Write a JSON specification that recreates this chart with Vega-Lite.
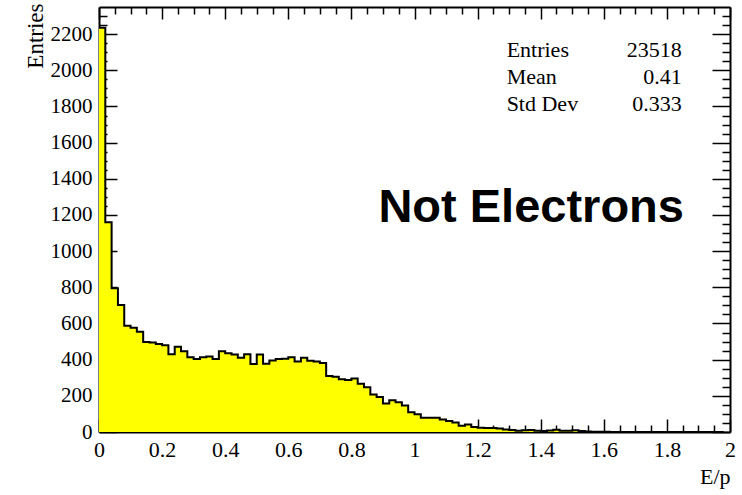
{
  "$schema": "https://vega.github.io/schema/vega-lite/v6.json",
  "width": 631,
  "height": 425,
  "autosize": {"type": "none"},
  "padding": {"left": 99, "top": 7, "right": 12, "bottom": 63},
  "background": "white",
  "config": {
    "view": {"stroke": null},
    "axis": {
      "labelFont": "Liberation Serif",
      "titleFont": "Liberation Serif",
      "labelColor": "black",
      "titleColor": "black",
      "tickColor": "black",
      "domainColor": "black",
      "domainWidth": 2,
      "tickWidth": 1.5,
      "grid": false,
      "zindex": 2
    }
  },
  "datasets": {
    "hist": [
      {"lo": 0.00, "n": 2235}, {"lo": 0.02, "n": 1160}, {"lo": 0.04, "n": 795}, {"lo": 0.06, "n": 702}, {"lo": 0.08, "n": 588},
      {"lo": 0.10, "n": 576}, {"lo": 0.12, "n": 555}, {"lo": 0.14, "n": 498}, {"lo": 0.16, "n": 495}, {"lo": 0.18, "n": 487},
      {"lo": 0.20, "n": 480}, {"lo": 0.22, "n": 430}, {"lo": 0.24, "n": 472}, {"lo": 0.26, "n": 446}, {"lo": 0.28, "n": 413},
      {"lo": 0.30, "n": 403}, {"lo": 0.32, "n": 413}, {"lo": 0.34, "n": 418}, {"lo": 0.36, "n": 403}, {"lo": 0.38, "n": 446},
      {"lo": 0.40, "n": 436}, {"lo": 0.42, "n": 428}, {"lo": 0.44, "n": 411}, {"lo": 0.46, "n": 430}, {"lo": 0.48, "n": 376},
      {"lo": 0.50, "n": 428}, {"lo": 0.52, "n": 378}, {"lo": 0.54, "n": 395}, {"lo": 0.56, "n": 404}, {"lo": 0.58, "n": 405},
      {"lo": 0.60, "n": 414}, {"lo": 0.62, "n": 390}, {"lo": 0.64, "n": 411}, {"lo": 0.66, "n": 394}, {"lo": 0.68, "n": 390},
      {"lo": 0.70, "n": 381}, {"lo": 0.72, "n": 310}, {"lo": 0.74, "n": 305}, {"lo": 0.76, "n": 292}, {"lo": 0.78, "n": 288},
      {"lo": 0.80, "n": 296}, {"lo": 0.82, "n": 267}, {"lo": 0.84, "n": 247}, {"lo": 0.86, "n": 208}, {"lo": 0.88, "n": 193},
      {"lo": 0.90, "n": 158}, {"lo": 0.92, "n": 175}, {"lo": 0.94, "n": 164}, {"lo": 0.96, "n": 147}, {"lo": 0.98, "n": 109},
      {"lo": 1.00, "n": 98}, {"lo": 1.02, "n": 79}, {"lo": 1.04, "n": 79}, {"lo": 1.06, "n": 79}, {"lo": 1.08, "n": 69},
      {"lo": 1.10, "n": 61}, {"lo": 1.12, "n": 52}, {"lo": 1.14, "n": 34}, {"lo": 1.16, "n": 42}, {"lo": 1.18, "n": 28},
      {"lo": 1.20, "n": 24}, {"lo": 1.22, "n": 22}, {"lo": 1.24, "n": 22}, {"lo": 1.26, "n": 20}, {"lo": 1.28, "n": 14},
      {"lo": 1.30, "n": 11}, {"lo": 1.32, "n": 7}, {"lo": 1.34, "n": 10}, {"lo": 1.36, "n": 11}, {"lo": 1.38, "n": 7},
      {"lo": 1.40, "n": 6}, {"lo": 1.42, "n": 8}, {"lo": 1.44, "n": 12}, {"lo": 1.46, "n": 7}, {"lo": 1.48, "n": 7},
      {"lo": 1.50, "n": 10}, {"lo": 1.52, "n": 5}, {"lo": 1.54, "n": 3}, {"lo": 1.56, "n": 2}, {"lo": 1.58, "n": 1},
      {"lo": 1.60, "n": 2}, {"lo": 1.62, "n": 0}, {"lo": 1.64, "n": 0}, {"lo": 1.66, "n": 0}, {"lo": 1.68, "n": 0},
      {"lo": 1.70, "n": 0}, {"lo": 1.72, "n": 0}, {"lo": 1.74, "n": 0}, {"lo": 1.76, "n": 0}, {"lo": 1.78, "n": 0},
      {"lo": 1.80, "n": 0}, {"lo": 1.82, "n": 0}, {"lo": 1.84, "n": 0}, {"lo": 1.86, "n": 0}, {"lo": 1.88, "n": 0},
      {"lo": 1.90, "n": 0}, {"lo": 1.92, "n": 0}, {"lo": 1.94, "n": 0}, {"lo": 1.96, "n": 0}, {"lo": 1.98, "n": 0}
    ],
    "note": [
      {"sample": "Not Electrons"}
    ]
  },
  "resolve": {"axis": {"x": "independent", "y": "independent"}},
  "layer": [
    {
      "data": {"name": "hist"},
      "mark": {"type": "area", "interpolate": "step-after", "fill": "#ffff00"},
      "encoding": {
        "x": {
          "field": "lo", "type": "quantitative",
          "scale": {"domain": [0, 2], "nice": false, "zero": false},
          "axis": {
            "orient": "bottom",
            "title": "E/p",
            "titleFontSize": 22,
            "titleFontWeight": "normal",
            "titleAnchor": "end",
            "titleAlign": "right",
            "titleBaseline": "alphabetic",
            "titleX": 631,
            "titleY": 51,
            "values": [0, 0.05, 0.1, 0.15, 0.2, 0.25, 0.3, 0.35, 0.4, 0.45, 0.5, 0.55, 0.6, 0.65, 0.7, 0.75, 0.8, 0.85, 0.9, 0.95, 1, 1.05, 1.1, 1.15, 1.2, 1.25, 1.3, 1.35, 1.4, 1.45, 1.5, 1.55, 1.6, 1.65, 1.7, 1.75, 1.8, 1.85, 1.9, 1.95, 2],
            "labelExpr": "abs(datum.value*5-round(datum.value*5))<0.001 ? format(datum.value, '~g') : ''",
            "labelFontSize": 22,
            "labelPadding": 20,
            "labelFlush": false,
            "labelOverlap": false,
            "tickSize": {"condition": {"test": "abs(datum.value*5-round(datum.value*5))<0.001", "value": -13}, "value": -7}
          }
        },
        "y": {
          "field": "n", "type": "quantitative",
          "scale": {"domain": [0, 2350], "nice": false},
          "axis": {
            "orient": "left",
            "title": "Entries",
            "titleFontSize": 23,
            "titleFontWeight": "normal",
            "titleAngle": -90,
            "titleAnchor": "end",
            "titleAlign": "right",
            "titleBaseline": "alphabetic",
            "titleX": -57,
            "titleY": -4,
            "values": [0, 50, 100, 150, 200, 250, 300, 350, 400, 450, 500, 550, 600, 650, 700, 750, 800, 850, 900, 950, 1000, 1050, 1100, 1150, 1200, 1250, 1300, 1350, 1400, 1450, 1500, 1550, 1600, 1650, 1700, 1750, 1800, 1850, 1900, 1950, 2000, 2050, 2100, 2150, 2200, 2250, 2300],
            "labelExpr": "datum.value % 200 == 0 ? format(datum.value, 'd') : ''",
            "labelFontSize": 21,
            "labelPadding": 25,
            "labelFlush": false,
            "labelOverlap": false,
            "tickSize": {"condition": {"test": "datum.value % 200 == 0", "value": -18}, "value": -8}
          }
        }
      }
    },
    {
      "data": {"name": "hist"},
      "mark": {"type": "line", "interpolate": "step-after", "stroke": "black", "strokeWidth": 2},
      "encoding": {
        "x": {
          "field": "lo", "type": "quantitative",
          "scale": {"domain": [0, 2], "nice": false, "zero": false},
          "axis": {
            "orient": "top",
            "title": null,
            "labels": false,
            "values": [0, 0.05, 0.1, 0.15, 0.2, 0.25, 0.3, 0.35, 0.4, 0.45, 0.5, 0.55, 0.6, 0.65, 0.7, 0.75, 0.8, 0.85, 0.9, 0.95, 1, 1.05, 1.1, 1.15, 1.2, 1.25, 1.3, 1.35, 1.4, 1.45, 1.5, 1.55, 1.6, 1.65, 1.7, 1.75, 1.8, 1.85, 1.9, 1.95, 2],
            "tickSize": {"condition": {"test": "abs(datum.value*5-round(datum.value*5))<0.001", "value": -12}, "value": -7}
          }
        },
        "y": {
          "field": "n", "type": "quantitative",
          "scale": {"domain": [0, 2350], "nice": false},
          "axis": {
            "orient": "right",
            "title": null,
            "labels": false,
            "values": [0, 50, 100, 150, 200, 250, 300, 350, 400, 450, 500, 550, 600, 650, 700, 750, 800, 850, 900, 950, 1000, 1050, 1100, 1150, 1200, 1250, 1300, 1350, 1400, 1450, 1500, 1550, 1600, 1650, 1700, 1750, 1800, 1850, 1900, 1950, 2000, 2050, 2100, 2150, 2200, 2250, 2300],
            "tickSize": {"condition": {"test": "datum.value % 200 == 0", "value": -18}, "value": -8}
          }
        }
      }
    },
    {
      "data": {"name": "note"},
      "mark": {"type": "text", "align": "left", "baseline": "alphabetic", "font": "Liberation Serif", "fontSize": 22, "lineHeight": 27, "fill": "black"},
      "encoding": {
        "x": {"datum": 1.292, "type": "quantitative", "scale": {"domain": [0, 2], "nice": false, "zero": false}, "axis": null},
        "y": {"datum": 2075, "type": "quantitative", "scale": {"domain": [0, 2350], "nice": false}, "axis": null},
        "text": {"value": ["Entries", "Mean", "Std Dev"]}
      }
    },
    {
      "data": {"name": "note"},
      "mark": {"type": "text", "align": "right", "baseline": "alphabetic", "font": "Liberation Serif", "fontSize": 22, "lineHeight": 27, "fill": "black"},
      "encoding": {
        "x": {"datum": 1.847, "type": "quantitative", "scale": {"domain": [0, 2], "nice": false, "zero": false}, "axis": null},
        "y": {"datum": 2075, "type": "quantitative", "scale": {"domain": [0, 2350], "nice": false}, "axis": null},
        "text": {"value": ["23518", "0.41", "0.333"]}
      }
    },
    {
      "data": {"name": "note"},
      "mark": {"type": "text", "align": "right", "baseline": "alphabetic", "font": "Liberation Sans", "fontWeight": "bold", "fontSize": 47, "fill": "black"},
      "encoding": {
        "x": {"datum": 1.854, "type": "quantitative", "scale": {"domain": [0, 2], "nice": false, "zero": false}, "axis": null},
        "y": {"datum": 1161, "type": "quantitative", "scale": {"domain": [0, 2350], "nice": false}, "axis": null},
        "text": {"field": "sample", "type": "nominal"}
      }
    }
  ]
}
